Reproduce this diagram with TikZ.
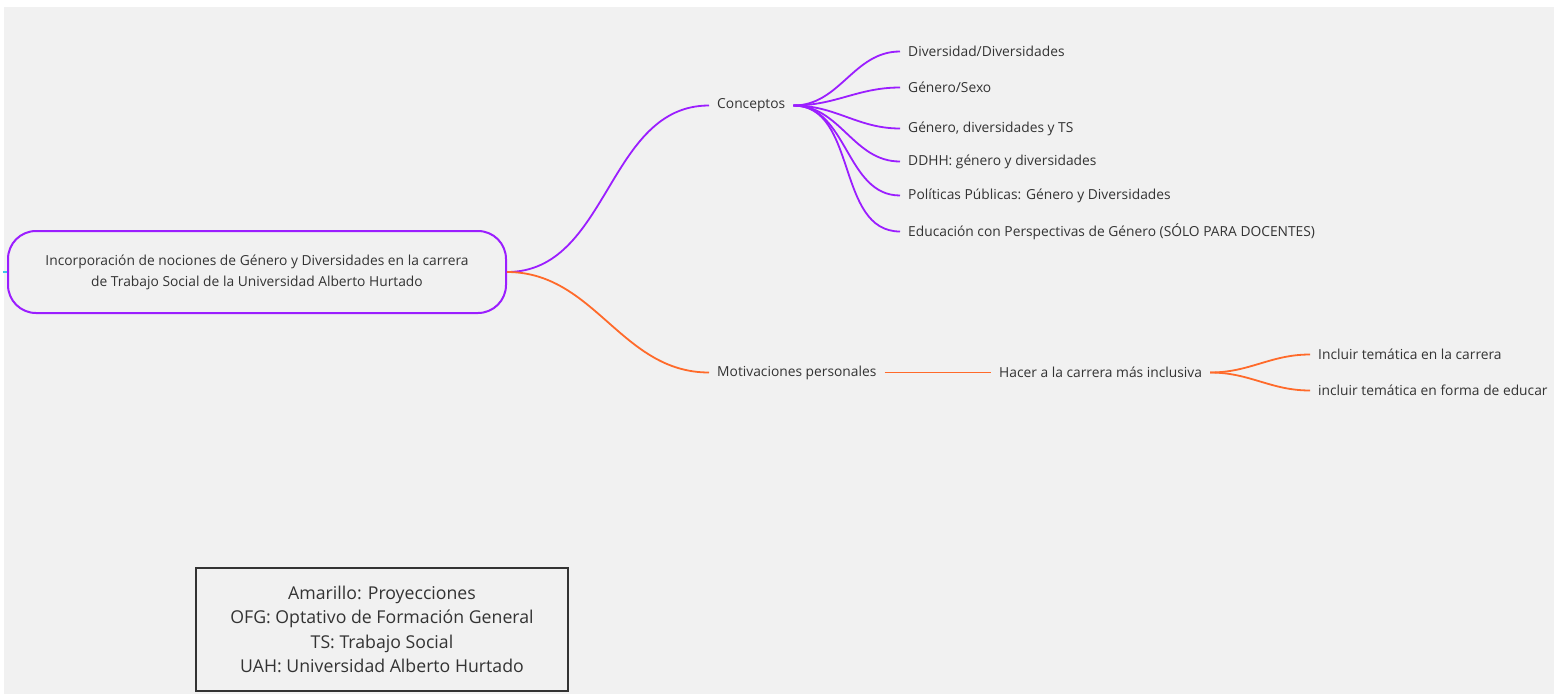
\documentclass[tikz,border=0pt]{standalone}
\usepackage{fontspec}
\setmainfont{Open Sans}
\definecolor{bg}{HTML}{F1F1F1}
\definecolor{purp}{HTML}{9B1EFF}
\definecolor{orng}{HTML}{FF6A2A}
\definecolor{txt}{HTML}{333333}
\definecolor{tick}{HTML}{3CC8E6}
\begin{document}
\begin{tikzpicture}[x=1pt,y=-1pt,
  lbl/.style={font=\fontsize{13.8}{16}\selectfont, text=txt, inner xsep=8pt, inner ysep=2pt, anchor=west},
  pe/.style={draw=purp, line width=1.8pt},
  oe/.style={draw=orng, line width=1.8pt},
  rootbox/.style={draw=purp, line width=2pt, rounded corners=28pt, minimum width=498pt, minimum height=82pt, align=center, font=\fontsize{13.8}{21}\selectfont, text=txt},
  legendbox/.style={draw=txt, line width=1.6pt, minimum width=372pt, minimum height=123pt, align=center, font=\fontsize{17.7}{24.5}\selectfont, text=txt}]
\useasboundingbox (0,0) rectangle (1559,694);
\fill[bg] (4,7) rectangle (1554,694);

\node[rootbox] (root) at (257,272) {Incorporación de nociones de Género y Diversidades en la carrera\\de Trabajo Social de la Universidad Alberto Hurtado};
\draw[tick, line width=1.5pt] (root.west) -- ++(-4,0);

\node[lbl] (conc) at (709,105.5) {Conceptos};
\node[lbl] (c1) at (900,51.5) {Diversidad/Diversidades};
\node[lbl] (c2) at (900,87.5) {Género/Sexo};
\node[lbl] (c3) at (900,128.5) {Género, diversidades y TS};
\node[lbl] (c4) at (900,161.5) {DDHH: género y diversidades};
\node[lbl] (c5) at (900,195.5) {Políticas Públicas: Género y Diversidades};
\node[lbl] (c6) at (900,231.5) {Educación con Perspectivas de Género (SÓLO PARA DOCENTES)};

\node[lbl] (mot) at (709,372.5) {Motivaciones personales};
\node[lbl] (hacer) at (991,372.5) {Hacer a la carrera más inclusiva};
\node[lbl] (h1) at (1310,354.5) {Incluir temática en la carrera};
\node[lbl] (h2) at (1310,390.5) {incluir temática en forma de educar};

\draw[pe] (root.east) to[out=0,in=180] (conc.west);
\draw[oe] (root.east) to[out=0,in=180] (mot.west);
\foreach \c in {c1,c2,c3,c4,c5,c6}
  \draw[pe] (conc.east) to[out=0,in=180] (\c.west);
\draw[oe] (mot.east) -- (hacer.west);
\draw[oe] (hacer.east) to[out=0,in=180] (h1.west);
\draw[oe] (hacer.east) to[out=0,in=180] (h2.west);

\node[legendbox] (leg) at (382,629.5) {Amarillo: Proyecciones\\OFG: Optativo de Formación General\\TS: Trabajo Social\\UAH: Universidad Alberto Hurtado};
\end{tikzpicture}
\end{document}
